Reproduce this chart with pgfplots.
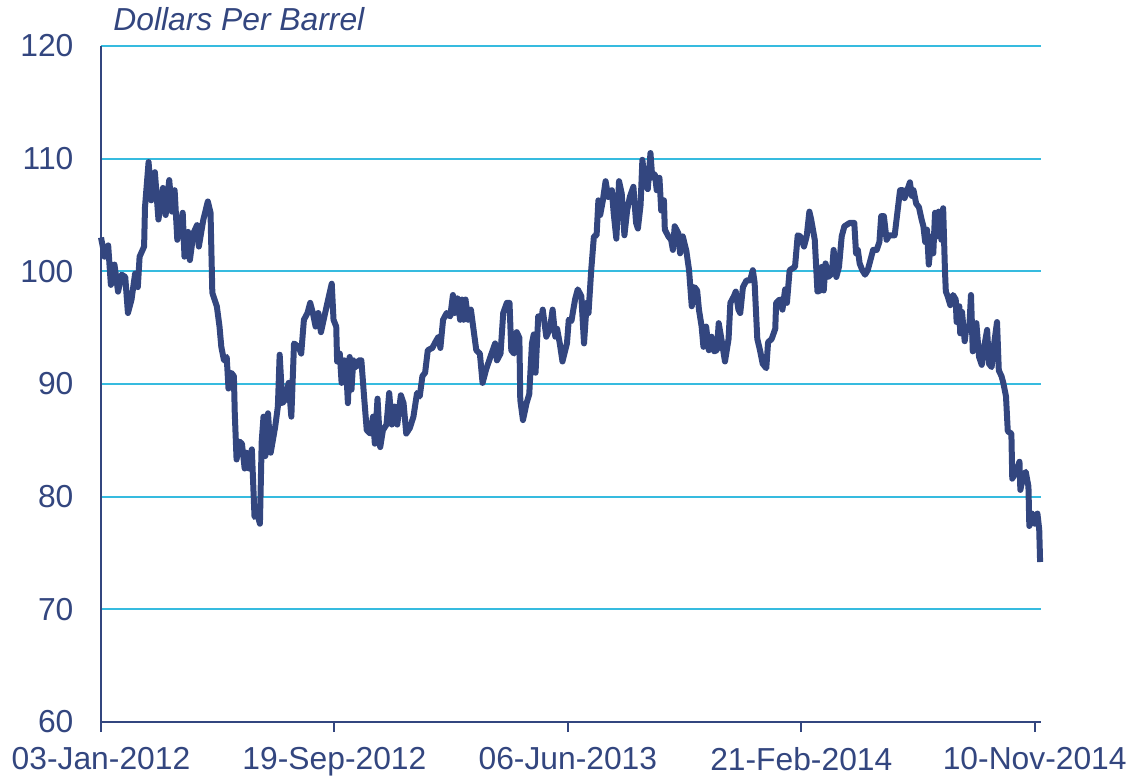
\documentclass[border=0pt]{standalone}
\usepackage{pgfplots}
\pgfplotsset{compat=1.18}
\usepackage{fontspec}
\setmainfont{Liberation Sans}
\definecolor{navy}{HTML}{33467F}
\definecolor{gridcyan}{HTML}{36BBDF}

% WTI spot, days counted from 03-Jan-2012
\pgfplotstableread{
day price
0 103.0
2 102.2
4 101.3
8 102.3
11 98.8
15 100.6
19 98.2
23 99.7
27 99.5
30 96.3
34 97.5
38 99.8
41 98.6
43 101.3
48 102.2
49 105.7
53 109.7
56 106.3
60 108.8
64 104.6
69 107.4
72 105.0
76 108.1
79 105.3
82 107.2
85 102.8
91 105.2
93 101.3
97 103.5
99 101.0
103 103.4
107 104.1
109 102.2
114 104.6
119 106.2
122 105.2
124 98.1
129 96.9
132 95.1
134 93.3
137 92.1
140 92.4
142 89.6
145 91.0
148 90.7
149 87.4
151 83.3
154 84.9
157 84.7
160 82.5
162 83.9
165 82.5
168 84.2
171 78.2
174 78.5
177 77.6
179 84.9
181 87.1
183 83.6
186 87.4
189 83.9
194 86.2
197 88.0
199 92.6
202 88.3
205 88.6
209 90.1
212 87.1
215 93.6
220 93.3
223 92.7
226 95.7
230 96.3
233 97.2
236 96.3
239 95.1
242 96.3
245 94.6
248 95.7
253 97.5
257 98.9
259 95.7
262 95.1
263 92.0
266 92.7
268 90.1
271 92.1
273 91.5
275 88.3
277 92.4
279 89.5
281 92.1
284 91.5
287 92.1
290 92.1
293 88.9
296 85.9
300 85.6
303 87.1
305 84.7
308 88.7
311 84.4
314 85.9
318 86.4
321 89.2
324 86.4
327 88.0
330 86.4
334 89.0
337 88.3
340 85.6
344 86.1
348 87.1
352 89.2
355 88.9
358 90.7
361 91.0
364 93.0
369 93.2
373 93.8
376 94.2
378 93.2
381 95.7
385 96.3
389 96.0
392 97.9
394 96.3
397 97.6
400 95.7
402 97.5
404 95.7
406 97.5
409 95.7
412 96.6
414 95.4
418 93.0
422 92.7
425 90.1
429 91.3
435 92.7
439 93.6
441 92.1
445 92.7
448 96.3
452 97.2
455 97.2
457 93.0
460 92.7
463 94.6
466 94.1
467 88.6
470 86.8
474 88.3
477 89.1
480 93.6
482 94.4
484 91.0
487 96.0
491 96.0
492 96.6
496 94.2
500 94.9
503 96.6
506 94.2
508 94.9
511 93.6
514 92.0
519 93.6
521 95.7
524 95.6
528 97.5
531 98.4
535 97.8
538 93.6
541 97.2
543 96.3
546 100.1
549 103.1
552 103.2
554 106.3
556 105.0
559 106.3
562 108.0
565 106.6
569 107.2
571 105.2
574 102.9
577 108.0
580 106.9
583 103.2
586 105.4
589 106.6
593 107.5
596 104.3
598 103.8
601 105.9
603 109.9
606 107.7
609 107.3
612 110.5
614 108.3
617 108.6
619 107.2
622 108.3
624 105.4
627 106.3
628 103.7
632 103.1
635 102.8
637 101.9
639 104.0
643 103.4
645 101.6
648 103.1
652 101.8
655 100.1
658 96.9
661 98.6
664 98.3
666 96.6
669 95.1
671 93.3
674 95.1
677 93.0
680 94.2
683 92.9
686 93.0
688 95.4
691 94.0
695 92.0
699 94.0
701 97.2
705 97.8
707 98.2
710 96.6
712 96.3
715 98.6
719 99.2
723 99.2
726 100.1
728 99.0
731 94.0
734 93.0
737 91.8
741 91.4
743 93.7
747 94.0
751 94.9
752 97.2
756 97.5
759 96.6
762 98.4
764 97.2
767 100.1
773 100.4
776 103.2
779 103.1
783 102.2
786 103.1
789 105.3
791 104.6
795 102.8
798 98.2
801 98.3
803 100.4
805 98.3
807 100.7
810 99.5
814 99.8
816 101.9
819 99.5
822 100.4
825 103.1
828 104.0
834 104.3
839 104.3
841 101.6
843 101.9
845 100.7
848 100.1
851 99.7
854 100.1
857 101.0
860 101.9
864 101.9
867 102.6
869 104.9
872 104.9
875 102.8
878 103.2
884 103.2
887 105.2
890 107.2
893 107.2
895 106.5
898 107.2
901 107.9
903 106.7
905 107.2
908 106.0
911 105.7
914 104.6
916 104.0
918 102.6
920 103.7
922 100.6
925 103.1
927 101.6
929 105.2
931 103.1
933 105.3
936 102.8
938 105.6
940 100.1
941 98.2
943 97.8
946 97.0
949 97.9
952 97.5
953 95.5
956 96.9
957 94.5
959 96.4
962 93.8
964 95.1
967 94.8
969 97.9
971 92.9
975 95.4
978 92.4
981 91.7
983 93.0
987 94.8
989 91.8
992 91.5
995 93.7
998 95.5
1000 91.2
1003 90.7
1005 90.1
1008 88.9
1010 85.8
1014 85.6
1015 81.6
1019 82.2
1023 83.1
1024 80.6
1027 81.8
1030 82.2
1033 80.9
1034 77.4
1037 78.5
1040 77.6
1043 78.5
1045 77.1
1046 74.2
}\wti

\begin{document}
\fontsize{15.9}{19}\selectfont
\begin{tikzpicture}
\begin{axis}[
  scale only axis,
  width=470pt, height=338pt,
  xmin=0, xmax=1047,
  ymin=60, ymax=120,
  axis x line*=bottom,
  axis y line*=left,
  axis line style={navy, line width=1pt},
  ytick={60,70,...,120},
  xtick={0,260,520,780,1040},
  xticklabels={03-Jan-2012,19-Sep-2012,06-Jun-2013,21-Feb-2014,10-Nov-2014},
  ymajorgrids,
  grid style={gridcyan, line width=1pt},
  tick align=outside,
  major tick length=5pt,
  xtick style={navy, line width=1pt},
  ytick style={draw=none},
  ticklabel style={font=\fontsize{15.9}{19}\selectfont, text=navy, inner sep=0pt},
  yticklabel style={xshift=-8.6pt},
  xticklabel style={yshift=-7.5pt},
  /pgf/number format/assume math mode=true,
  clip=false,
]
\addplot[navy, line width=3pt, line join=round] table[x=day, y=price] {\wti};
\node[anchor=base west, inner sep=0pt, text=navy, font=\itshape\fontsize{15.9}{19}\selectfont,
      xshift=6pt, yshift=8pt] at (rel axis cs:0,1) {Dollars Per Barrel};
\end{axis}
\pgfresetboundingbox
\path[use as bounding box] (-50.5pt,-27pt) rectangle (516.5pt,361pt);
\end{tikzpicture}
\end{document}
